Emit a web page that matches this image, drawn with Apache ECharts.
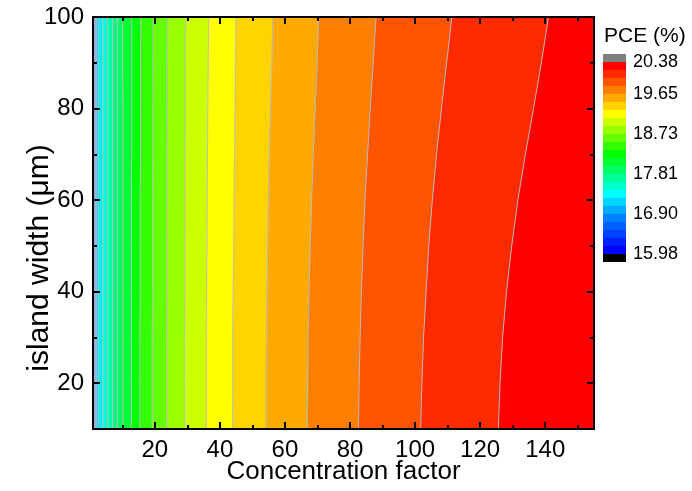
<!DOCTYPE html>
<html>
<head>
<meta charset="utf-8">
<script src="https://cdn.jsdelivr.net/npm/echarts@6/dist/echarts.min.js"></script>
<style>
html, body { margin: 0; padding: 0; background: #fff; }
#main { width: 692px; height: 491px; }
</style>
</head>
<body>
<div id="main"></div>
<script>
var chart = echarts.init(document.getElementById('main'));
var FONT = '"Liberation Sans", Arial, sans-serif';

// axis ranges and ticks
var xMin = 1, xMax = 155;
var yMin = 10, yMax = 100;
var xTicks = [20, 40, 60, 80, 100, 120, 140];
var xMinorTicks = [10, 30, 50, 70, 90, 110, 130, 150];
var yTicks = [20, 40, 60, 80, 100];
var yMinorTicks = [30, 50, 70, 90];

// contour boundaries: x position (concentration factor) at each island width in yKnots
var yKnots = [10, 20, 30, 40, 50, 60, 70, 80, 90, 100];
var contourX = [
    [2.0, 2.0, 2.0, 2.0, 2.0, 2.0, 2.0, 2.0, 2.0, 2.0],
    [2.6, 2.6, 2.6, 2.6, 2.6, 2.6, 2.6, 2.6, 2.6, 2.6],
    [4.0, 4.0, 4.0, 4.0, 4.0, 4.0, 4.0, 4.0, 4.0, 4.0],
    [5.5, 5.5, 5.5, 5.5, 5.5, 5.5, 5.5, 5.5, 5.5, 5.5],
    [7.0, 7.0, 7.0, 7.0, 7.0, 7.0, 7.0, 7.0, 7.0, 7.0],
    [8.6, 8.6, 8.6, 8.6, 8.6, 8.6, 8.6, 8.6, 8.6, 8.6],
    [10.2, 10.2, 10.2, 10.2, 10.2, 10.2, 10.2, 10.2, 10.1, 10.1],
    [12.8, 12.8, 12.8, 12.8, 12.8, 12.8, 12.9, 12.9, 12.9, 12.9],
    [15.4, 15.4, 15.4, 15.5, 15.5, 15.5, 15.6, 15.6, 15.6, 15.7],
    [19.2, 19.2, 19.2, 19.3, 19.3, 19.3, 19.4, 19.4, 19.5, 19.5],
    [23.6, 23.6, 23.6, 23.7, 23.7, 23.8, 23.8, 23.9, 23.9, 24.0],
    [29.1, 29.1, 29.1, 29.2, 29.2, 29.3, 29.3, 29.4, 29.4, 29.5],
    [35.8, 35.8, 35.8, 35.9, 36.0, 36.1, 36.2, 36.3, 36.4, 36.5],
    [43.9, 44.0, 44.0, 44.1, 44.3, 44.4, 44.5, 44.7, 44.8, 45.0],
    [54.2, 54.2, 54.3, 54.5, 54.7, 54.9, 55.2, 55.6, 56.0, 56.3],
    [66.9, 67.0, 67.1, 67.4, 67.8, 68.2, 68.7, 69.3, 69.9, 70.4],
    [82.6, 82.8, 83.1, 83.5, 84.0, 84.6, 85.4, 86.2, 87.1, 88.0],
    [101.7, 102.1, 102.6, 103.4, 104.2, 105.3, 106.6, 108.1, 109.7, 111.3],
    [125.6, 126.1, 126.9, 128.1, 129.7, 131.6, 133.9, 136.4, 138.8, 141.0]
];
// fill colour of each band, left to right
var bandColors = [
    '#98b0da', '#00ccff', '#00eeff', '#00ffdd', '#00ffaa', '#00ff80', '#00ff5a',
    '#00ff33', '#00ff00', '#33ff00', '#66ff00', '#99ff00', '#ccff00', '#ffff00',
    '#ffd400', '#ffaa00', '#ff8000', '#ff5500', '#ff2a00', '#ff0000'
];

// colour scale: bottom (black, below range) to top (grey, above range)
var cbColors = [
    '#000000',
    '#0000ff', '#0020ff', '#0040ff', '#0060ff', '#0080ff', '#00aaff', '#00d4ff',
    '#00ffff', '#00ffcc', '#00ff99', '#00ff66', '#00ff33', '#00ff00', '#33ff00',
    '#66ff00', '#99ff00', '#ccff00', '#ffff00', '#ffd400', '#ffaa00', '#ff8000',
    '#ff5500', '#ff2a00', '#ff0000',
    '#808080'
];
var cbTicks = [0, 5, 10, 15, 20, 24];
var cbLabels = ['15.98', '16.90', '17.81', '18.73', '19.65', '20.38'];

function frameAxis(dim, pos, ticks, len, labels) {
    return {
        type: 'value',
        gridIndex: 0,
        position: pos,
        z: 10,
        min: dim === 'x' ? xMin : yMin,
        max: dim === 'x' ? xMax : yMax,
        axisLine: { show: true, onZero: false, lineStyle: { color: '#000', width: 2 } },
        axisTick: { show: true, inside: true, length: len, customValues: ticks,
                    lineStyle: { color: '#000', width: 2 } },
        axisLabel: { show: labels, customValues: ticks, color: '#000',
                     fontFamily: FONT, fontSize: 24, margin: 9 },
        splitLine: { show: false }
    };
}

var xAxes = [
    frameAxis('x', 'bottom', xTicks, 7, true),
    frameAxis('x', 'bottom', xMinorTicks, 4, false),
    frameAxis('x', 'top', xTicks, 7, false),
    frameAxis('x', 'top', xMinorTicks, 4, false),
    { type: 'value', gridIndex: 1, min: 0, max: 1, show: false }
];
xAxes[0].name = 'Concentration factor';
xAxes[0].nameLocation = 'middle';
xAxes[0].nameGap = 30;
xAxes[0].nameMoveOverlap = false;
xAxes[0].nameTextStyle = { fontFamily: FONT, fontSize: 26, color: '#000' };

var yAxes = [
    frameAxis('y', 'left', yTicks, 7, true),
    frameAxis('y', 'left', yMinorTicks, 4, false),
    frameAxis('y', 'right', yTicks, 7, false),
    frameAxis('y', 'right', yMinorTicks, 4, false),
    {
        type: 'value', gridIndex: 1, min: -1, max: 25, position: 'right',
        axisLine: { show: false }, axisTick: { show: false }, splitLine: { show: false },
        axisLabel: {
            customValues: cbTicks, color: '#000', fontFamily: FONT, fontSize: 18, margin: 7,
            formatter: function (v) { return cbLabels[cbTicks.indexOf(v)]; }
        }
    }
];
yAxes[0].name = 'island width (\u03bcm)';
yAxes[0].nameLocation = 'middle';
yAxes[0].nameGap = 38;
yAxes[0].nameMoveOverlap = false;
yAxes[0].nameTextStyle = { fontFamily: FONT, fontSize: 30, color: '#000', padding: [0, 70, 0, 0] };

function boundaryPoints(api, xs, reverse) {
    var pts = [];
    for (var k = 0; k < yKnots.length; k++) {
        pts.push(api.coord([xs[k], yKnots[k]]));
    }
    return reverse ? pts.reverse() : pts;
}

var edgeMin = yKnots.map(function () { return xMin; });
var edgeMax = yKnots.map(function () { return xMax; });

chart.setOption({
    backgroundColor: '#fff',
    animation: false,
    title: {
        text: 'PCE (%)', left: 599, top: 21,
        textStyle: { fontFamily: FONT, fontSize: 21, fontWeight: 'normal', color: '#000' }
    },
    grid: [
        { left: 93, top: 17, width: 501, height: 412 },
        { left: 603, top: 54, width: 23, height: 208 }
    ],
    xAxis: xAxes,
    yAxis: yAxes,
    series: [
        {
            type: 'custom',
            xAxisIndex: 0, yAxisIndex: 0,
            clip: true,
            z: 1,
            data: bandColors.map(function (c, i) { return [i]; }),
            renderItem: function (params, api) {
                var i = api.value(0);
                var left = i === 0 ? edgeMin : contourX[i - 1];
                var right = i === bandColors.length - 1 ? edgeMax : contourX[i];
                var pts = boundaryPoints(api, left, false).concat(boundaryPoints(api, right, true));
                return {
                    type: 'polygon',
                    shape: { points: pts },
                    style: { fill: bandColors[i], stroke: bandColors[i], lineWidth: 0.6 }
                };
            }
        },
        {
            type: 'custom',
            xAxisIndex: 0, yAxisIndex: 0,
            clip: true,
            z: 2,
            data: contourX.map(function (c, i) { return [i]; }),
            renderItem: function (params, api) {
                var i = api.value(0);
                return {
                    type: 'polyline',
                    shape: { points: boundaryPoints(api, contourX[i], false) },
                    style: { fill: null, stroke: '#bcbcbc', lineWidth: 1 }
                };
            }
        },
        {
            type: 'custom',
            xAxisIndex: 4, yAxisIndex: 4,
            data: cbColors.map(function (c, i) { return [i]; }),
            renderItem: function (params, api) {
                var i = api.value(0);
                var p0 = api.coord([0, i]);
                var p1 = api.coord([1, i - 1]);
                return {
                    type: 'rect',
                    shape: { x: p0[0], y: p0[1], width: p1[0] - p0[0], height: p1[1] - p0[1] },
                    style: { fill: cbColors[i] }
                };
            }
        }
    ]
});
</script>
</body>
</html>
